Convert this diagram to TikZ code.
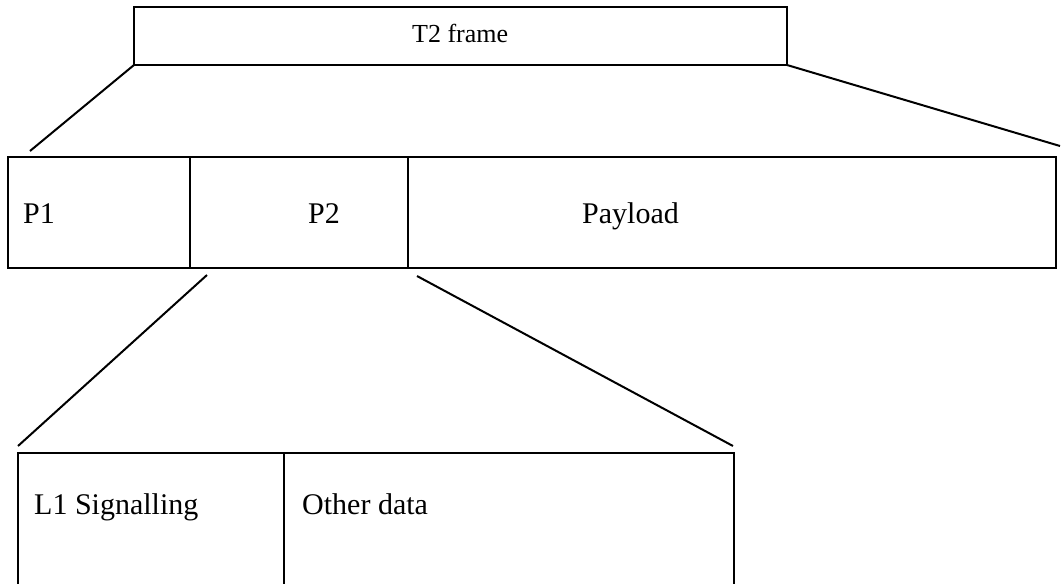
\documentclass[tikz,border=0pt]{standalone}
\usepackage{fontspec}
\setmainfont{Liberation Serif}
\begin{document}
\begin{tikzpicture}[x=1pt,y=-1pt,
  cell/.style={draw=black,line width=2pt,rectangle,inner sep=0pt,outer sep=0pt,anchor=north west},
  link/.style={draw=black,line width=2pt},
  big/.style={font=\fontsize{30}{36}\selectfont,inner sep=0pt,anchor=base west},
  small/.style={font=\fontsize{26}{31}\selectfont,inner sep=0pt,anchor=base west}]
\useasboundingbox[fill=white] (0,0) rectangle (1061,584);
% top box
\node[cell,minimum width=653pt,minimum height=58pt] (t2) at (134,7) {};
\node[small] (t2t) at (412,42) {T2 frame};
% middle row
\node[cell,minimum width=182pt,minimum height=111pt] (p1) at (8,157) {};
\node[cell,minimum width=218pt,minimum height=111pt] (p2) at (190,157) {};
\node[cell,minimum width=648pt,minimum height=111pt] (pl) at (408,157) {};
\node[big] (p1t) at (23,223) {P1};
\node[big] (p2t) at (308,223) {P2};
\node[big] (plt) at (582,223) {Payload};
% bottom row (runs off the bottom edge)
\node[cell,minimum width=266pt,minimum height=160pt] (l1) at (18,453) {};
\node[cell,minimum width=450pt,minimum height=160pt] (od) at (284,453) {};
\node[big] (l1t) at (34,514) {L1 Signalling};
\node[big] (odt) at (302,514) {Other data};
% connector end points
\coordinate (a1) at (30,151);
\coordinate (a2) at (1060,146);
\coordinate (b0) at (207,275);
\coordinate (b1) at (18,446);
\coordinate (c0) at (417,276);
\coordinate (c1) at (733,446);
\draw[link] (t2.south west) -- (a1);
\draw[link] (t2.south east) -- (a2);
\draw[link] (b0) -- (b1);
\draw[link] (c0) -- (c1);
\end{tikzpicture}
\end{document}
